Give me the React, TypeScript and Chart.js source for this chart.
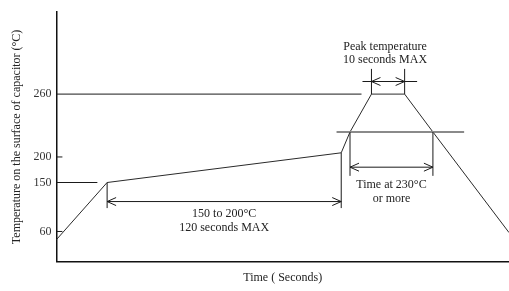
import React, { useEffect, useRef } from "react";
import { Chart, registerables, LinearScale } from "chart.js";

// ---- data (schematic reflow profile) ----
const timeSec = [0, 26, 146, 150.5, 161.5, 178.5, 193, 232];
const surfaceTemp = [45, 150, 205, 230, 260, 260, 230, 58];
const yTickValues = [60, 150, 200, 260];

// schematic (non-uniform) temperature axis: knots temp -> relative axis position
const tempKnots = [5, 60, 150, 200, 230, 260, 325];
const axisPosKnots = [0, 31, 81.4, 107.7, 133.4, 172.4, 256.7];

// reference lines drawn from the y axis
const refLineTemps = [260, 150];
const refLineEnds = [156.4, 21];
const shortTickTemps = [60, 200];
// 230 °C threshold line
const thresholdTemp = 230;
const thresholdSpan = [143.6, 209];

// dimension markers
const preheatSpan = [26, 146];
const preheatArrowTemp = 115;
const preheatExtTemp = 103;
const preheatLabels = ["150 to 200°C", "120 seconds MAX"];

const peakSpan = [161.5, 178.5];
const peakArrowSpan = [156.9, 184.9];
const peakArrowTemp = 270;
const peakExtTemp = 280;
const peakLabels = ["Peak temperature", "10 seconds MAX"];

const above230Span = [150.5, 193];
const above230ArrowTemp = 180;
const above230ExtTemp = 163;
const above230Labels = ["Time at 230°C", "or more"];

const FONT = '12px "Liberation Serif", "Times New Roman", serif';

function interp(v: number, xs: number[], ys: number[]) {
  let i = 0;
  if (v <= xs[0]) i = 0;
  else if (v >= xs[xs.length - 1]) i = xs.length - 2;
  else {
    while (i < xs.length - 2 && v > xs[i + 1]) i++;
  }
  const t = (v - xs[i]) / (xs[i + 1] - xs[i]);
  return ys[i] + t * (ys[i + 1] - ys[i]);
}

class SchematicScale extends LinearScale {
  static id = "schematic";
  getPixelForValue(value: number) {
    return super.getPixelForValue(interp(value, tempKnots, axisPosKnots));
  }
  getValueForPixel(pixel: number) {
    return interp(super.getValueForPixel(pixel), axisPosKnots, tempKnots);
  }
}

Chart.register(...registerables, SchematicScale);

const annotationPlugin = {
  id: "profileAnnotations",
  afterDatasetsDraw(chart: any) {
    const { ctx, chartArea } = chart;
    const xs = chart.scales.x;
    const ys = chart.scales.y;
    const X = (t: number) => xs.getPixelForValue(t);
    const Y = (v: number) => ys.getPixelForValue(v);
    const tempAt = (t: number) => interp(t, timeSec, surfaceTemp);
    ctx.save();
    const line = (x1: number, y1: number, x2: number, y2: number, color = "#1a1a1a", w = 1) => {
      ctx.beginPath();
      ctx.strokeStyle = color;
      ctx.lineWidth = w;
      ctx.moveTo(x1, y1);
      ctx.lineTo(x2, y2);
      ctx.stroke();
    };
    const head = (xt: number, y: number, dir: number) => {
      ctx.beginPath();
      ctx.strokeStyle = "#1a1a1a";
      ctx.lineWidth = 1;
      ctx.moveTo(xt - dir * 9, y - 4);
      ctx.lineTo(xt, y);
      ctx.lineTo(xt - dir * 9, y + 4);
      ctx.stroke();
    };
    const text = (lines: string[], cx: number, baseY: number, offsets: number[]) => {
      ctx.font = FONT;
      ctx.fillStyle = "#222";
      ctx.textAlign = "center";
      ctx.textBaseline = "middle";
      lines.forEach((s, i) => ctx.fillText(s, cx, baseY + offsets[i]));
    };

    // reference lines from the axis
    refLineTemps.forEach((v, i) => line(chartArea.left, Y(v), X(refLineEnds[i]), Y(v)));
    shortTickTemps.forEach((v) => line(chartArea.left, Y(v), chartArea.left + 6, Y(v)));
    // threshold line
    line(X(thresholdSpan[0]), Y(thresholdTemp), X(thresholdSpan[1]), Y(thresholdTemp), "#8a8a8a", 2);

    // preheat dimension
    preheatSpan.forEach((t) => line(X(t), Y(tempAt(t)), X(t), Y(preheatExtTemp)));
    const pY = Y(preheatArrowTemp);
    line(X(preheatSpan[0]), pY, X(preheatSpan[1]), pY);
    head(X(preheatSpan[0]), pY, -1);
    head(X(preheatSpan[1]), pY, 1);
    text(preheatLabels, (X(preheatSpan[0]) + X(preheatSpan[1])) / 2, pY, [12, 26]);

    // peak dimension
    peakSpan.forEach((t) => line(X(t), Y(tempAt(t)), X(t), Y(peakExtTemp)));
    const kY = Y(peakArrowTemp);
    line(X(peakArrowSpan[0]), kY, X(peakArrowSpan[1]), kY);
    head(X(peakSpan[0]), kY, -1);
    head(X(peakSpan[1]), kY, 1);
    text(peakLabels, (X(peakSpan[0]) + X(peakSpan[1])) / 2 - 3, kY, [-35, -21.3]);

    // time above 230 dimension
    above230Span.forEach((t) => line(X(t), Y(thresholdTemp), X(t), Y(above230ExtTemp)));
    const aY = Y(above230ArrowTemp);
    line(X(above230Span[0]), aY, X(above230Span[1]), aY);
    head(X(above230Span[0]), aY, -1);
    head(X(above230Span[1]), aY, 1);
    text(above230Labels, (X(above230Span[0]) + X(above230Span[1])) / 2, aY, [18, 31.4]);

    ctx.restore();
  },
};

export default function App() {
  const ref = useRef<HTMLCanvasElement | null>(null);
  useEffect(() => {
    if (!ref.current) return;
    const chart = new Chart(ref.current, {
      type: "line",
      data: {
        datasets: [
          {
            data: timeSec.map((t, i) => ({ x: t, y: surfaceTemp[i] })),
            borderColor: "#2a2a2a",
            borderWidth: 1,
            pointRadius: 0,
            tension: 0,
            clip: false as any,
          },
        ],
      },
      options: {
        animation: false,
        responsive: true,
        maintainAspectRatio: false,
        layout: { padding: { top: 5, right: 0, left: 0, bottom: 0 } },
        plugins: { legend: { display: false }, tooltip: { enabled: false } },
        scales: {
          x: {
            type: "linear",
            min: 0,
            max: 232,
            grid: { display: false, drawTicks: false },
            border: { display: true, color: "#111", width: 1.5 },
            ticks: { display: false },
            title: {
              display: true,
              text: "Time ( Seconds)",
              font: { family: '"Liberation Serif", serif', size: 12 },
              color: "#222",
              padding: { top: 9, bottom: 6 },
            },
          },
          y: {
            type: "schematic" as any,
            min: 0,
            max: 256.7,
            afterBuildTicks: (scale: any) => {
              scale.ticks = yTickValues.map((v) => ({ value: v }));
            },
            grid: { display: false, drawTicks: false },
            border: { display: true, color: "#111", width: 1.5 },
            ticks: {
              padding: 5,
              color: "#333",
              font: { family: '"Liberation Serif", serif', size: 12 },
              callback: (v: any) => String(v),
            },
            title: {
              display: true,
              text: "Temperature on the surface of capacitor (°C)",
              font: { family: '"Liberation Serif", serif', size: 12 },
              color: "#222",
              padding: { top: 9.5, bottom: 4.5 },
            },
          },
        },
      },
      plugins: [annotationPlugin],
    } as any);
    return () => chart.destroy();
  }, []);
  return (
    <div style={{ position: "fixed", left: 0, top: 0, width: 509, height: 291, background: "#fff" }}>
      <canvas ref={ref} />
    </div>
  );
}
